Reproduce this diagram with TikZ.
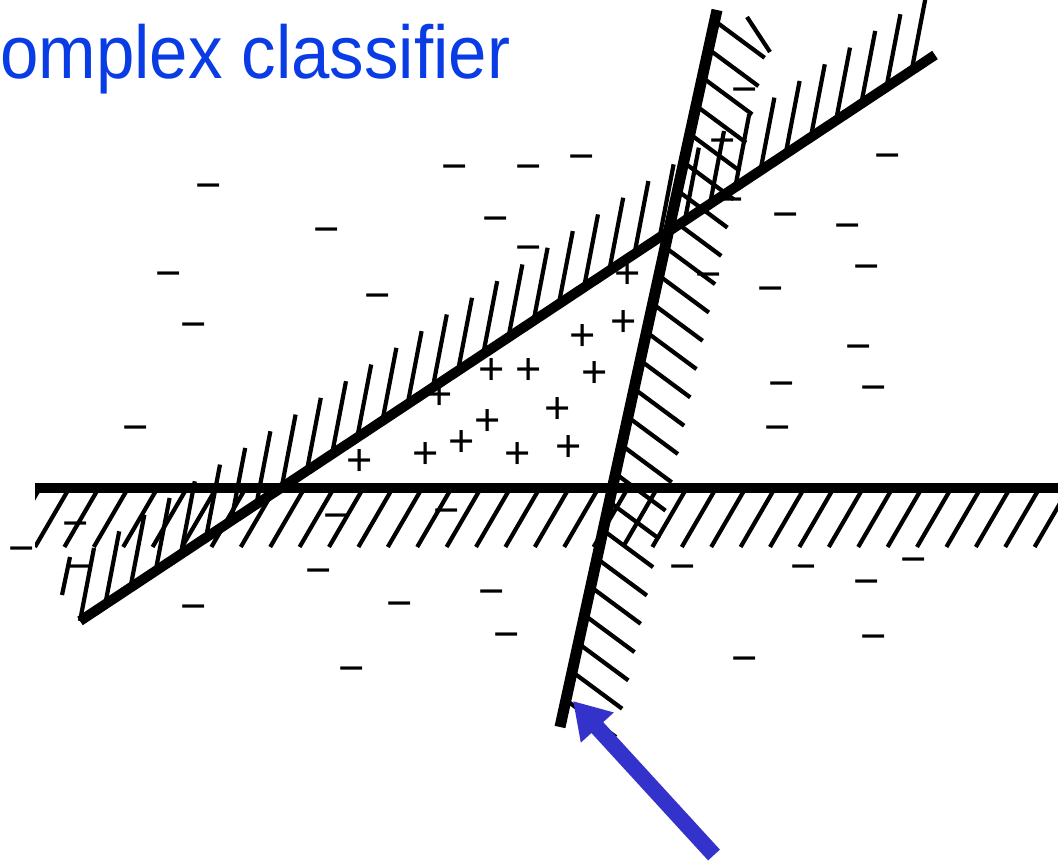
\documentclass[tikz,border=0pt]{standalone}
\usepackage{fontspec}
\newfontfamily\titlefont{Liberation Sans}
\newfontfamily\signfont{Liberation Sans}
\usetikzlibrary{calc,arrows.meta}
\definecolor{titleblue}{RGB}{10,60,230}
\definecolor{arrowblue}{RGB}{51,51,204}
\begin{document}
\begin{tikzpicture}[x=1pt,y=-1pt,
  boundary/.style={line width=10pt},
  hatch/.style={line width=4.2pt},
  sign/.style={inner sep=0pt, anchor=base,
    font=\signfont\fontsize{45}{45}\selectfont},
  pointer/.style={arrowblue, line width=16pt, -{Triangle[length=36pt,width=42pt]}}
]
\useasboundingbox (0,0) rectangle (1058,864);
\fill[white] (0,0) rectangle (1058,864);

% title
\node[anchor=base west, inner sep=0pt, text=titleblue,
  font=\titlefont\fontsize{75}{80}\selectfont] (title) at (0,79)
  {\scalebox{0.92}[1]{omplex classifier}};

% boundary end points
\coordinate (H1) at (35,488);
\coordinate (H2) at (1064,488);
\coordinate (A) at (80,621);
\coordinate (B) at (935,55);
\coordinate (C) at (560,727);
\coordinate (D) at (717,10);

% hatching below the horizontal line
\begin{scope}
  \clip (35,470) rectangle (1058,560);
  \foreach \k in {-1,...,35}
    \draw[hatch] ({35+29.4*\k},547) -- ++(32,-55);
\end{scope}

% hatching above the diagonal line
\foreach \k in {0,...,33}
  \draw[hatch] ({80+25.2*\k},{621-16.68*\k}) -- ++(14,-73);

% hatching right of the steep line
\foreach \k in {0,...,24}
  \draw[hatch] ({560+0.219*(27+28.3*\k)},{700-28.3*\k}) -- ++(50,37);

% stray strokes
\draw[hatch] (747,17) -- (770,52);
\draw[hatch] (62,595) -- (70,557);

% the three boundaries
\draw[boundary] (H1) -- (H2);
\draw[boundary] (A) -- (B);
\draw[boundary, line width=11pt] (C) -- (D);

% minus signs
\foreach \x/\y [count=\i] in {209/187,455/168,529/168,582/158,888/157,
  496/220,327/231,529/249,169/275,378/297,194/326,136/429,
  745/91,723/142,731/201,786/216,848/227,709/276,771/290,
  867/268,859/348,782/385,874/389,778/429,76/525,22/550,
  80/568,337/517,447/512,319/572,194/608,400/605,492/593,
  507/636,352/670,683/568,804/568,867/583,914/561,874/638,
  745/660}
  \node[sign] (m\i) at (\x,\y+13.6) {−};

% plus signs
\foreach \x/\y [count=\i] in {628/275,624/323,583/337,492/371,529/371,
  595/374,440/396,558/410,488/422,462/443,360/462,426/455,
  518/455,569/448}
  \node[sign] (p\i) at (\x,\y+13.6) {+};

% pointer arrow
\coordinate (atail) at (714,855);
\coordinate (atip) at (573,701);
\draw[pointer] (atail) -- (atip);
\end{tikzpicture}
\end{document}
